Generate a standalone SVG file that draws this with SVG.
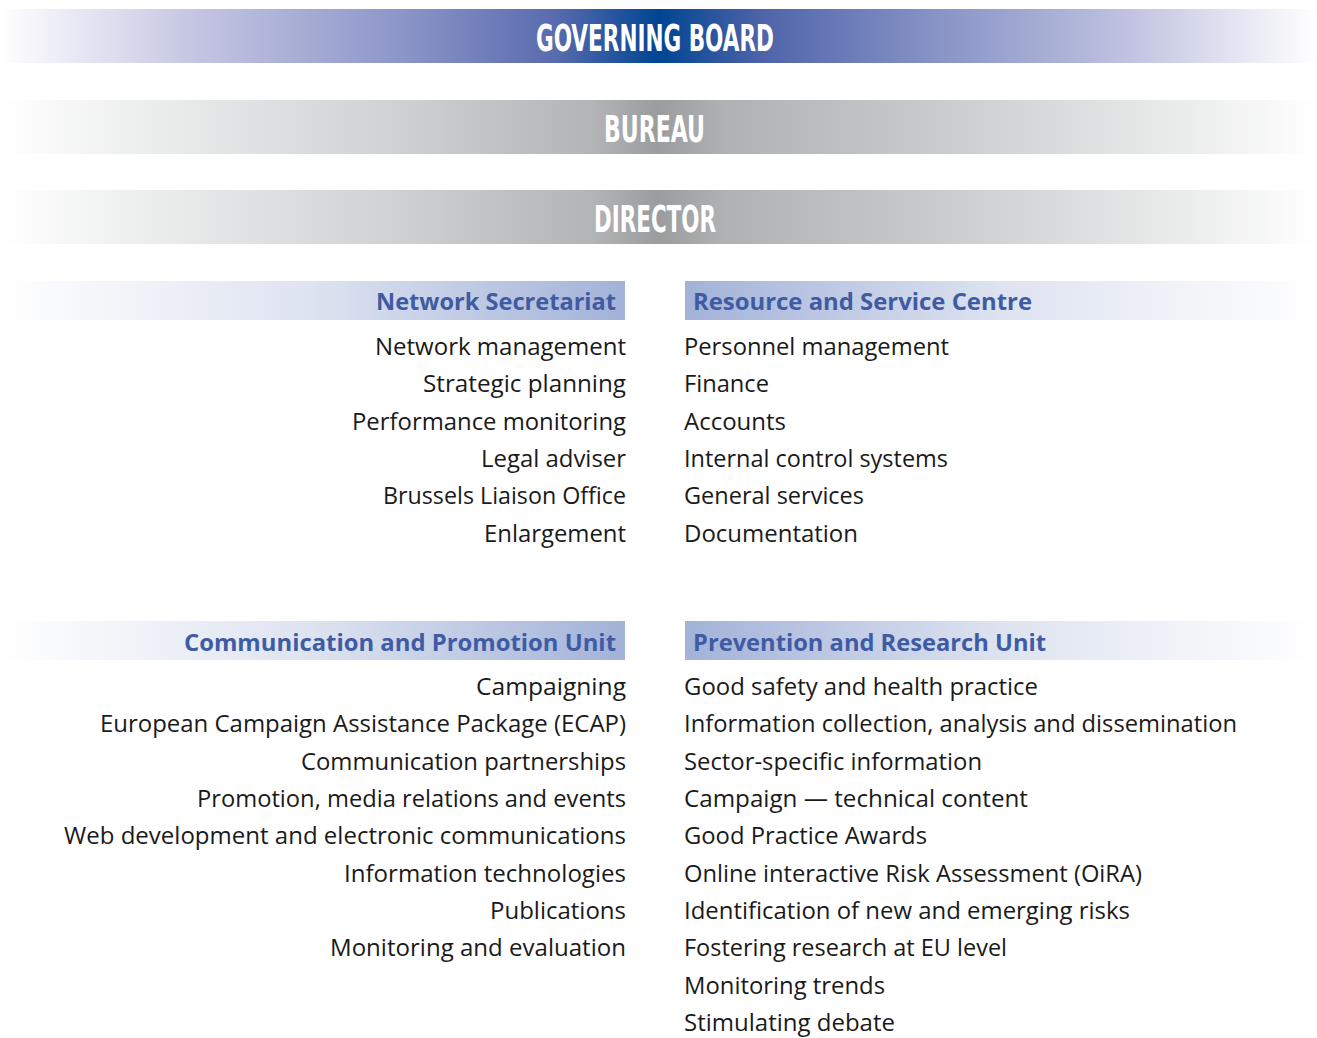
<svg xmlns="http://www.w3.org/2000/svg" width="1317" height="1038" viewBox="0 0 1317 1038">
<defs>
<linearGradient id="gBlue" x1="0" y1="0" x2="1317" y2="0" gradientUnits="userSpaceOnUse">
<stop offset="0" stop-color="#ffffff"/>
<stop offset="0.15" stop-color="#c3c5e2"/>
<stop offset="0.3" stop-color="#8e97c9"/>
<stop offset="0.42" stop-color="#5a6cae"/>
<stop offset="0.5" stop-color="#004593"/>
<stop offset="0.58" stop-color="#4f64a9"/>
<stop offset="0.7" stop-color="#8390c4"/>
<stop offset="0.85" stop-color="#bdc0df"/>
<stop offset="1" stop-color="#ffffff"/>
</linearGradient>
<linearGradient id="gGray" x1="0" y1="0" x2="1317" y2="0" gradientUnits="userSpaceOnUse">
<stop offset="0" stop-color="#ffffff"/>
<stop offset="0.1" stop-color="#eeefef"/>
<stop offset="0.3" stop-color="#d0d1d3"/>
<stop offset="0.45" stop-color="#b3b4b6"/>
<stop offset="0.5" stop-color="#9b9c9e"/>
<stop offset="0.55" stop-color="#b0b1b3"/>
<stop offset="0.7" stop-color="#c8c9cb"/>
<stop offset="0.9" stop-color="#ebecec"/>
<stop offset="1" stop-color="#ffffff"/>
</linearGradient>
<linearGradient id="gLeft" x1="0" y1="0" x2="1" y2="0">
<stop offset="0" stop-color="#ffffff"/>
<stop offset="0.5" stop-color="#dde3f0"/>
<stop offset="1" stop-color="#a2b2d8"/>
</linearGradient>
<linearGradient id="gRight" x1="0" y1="0" x2="1" y2="0">
<stop offset="0" stop-color="#a2b2d8"/>
<stop offset="0.5" stop-color="#dde3f0"/>
<stop offset="1" stop-color="#ffffff"/>
</linearGradient>
</defs>
<style>
.title{font-family:"DejaVu Sans Condensed","DejaVu Sans",sans-serif;font-weight:bold;font-size:37px;fill:#ffffff;text-anchor:middle}
.hd{font-family:"Open Sans","Liberation Sans",sans-serif;font-weight:bold;font-size:23px;fill:#3f5ba3}
.it{font-family:"Open Sans","Liberation Sans",sans-serif;font-size:24px;fill:#1a1a1a}
.l{text-anchor:end}
.hl{text-anchor:end}
</style>
<rect width="1317" height="1038" fill="#ffffff"/>
<g id="governing-board">
<rect x="0" y="9" width="1317" height="54" fill="url(#gBlue)"/>
<text class="title" x="655" y="51" textLength="238" lengthAdjust="spacingAndGlyphs">GOVERNING BOARD</text>
</g>
<g id="bureau">
<rect x="0" y="100" width="1317" height="54" fill="url(#gGray)"/>
<text class="title" x="654.5" y="142" textLength="101" lengthAdjust="spacingAndGlyphs">BUREAU</text>
</g>
<g id="director">
<rect x="0" y="190" width="1317" height="54" fill="url(#gGray)"/>
<text class="title" x="655" y="232" textLength="122" lengthAdjust="spacingAndGlyphs">DIRECTOR</text>
</g>
<g id="network-secretariat">
<rect x="0" y="281" width="625" height="39" fill="url(#gLeft)"/>
<text class="hd hl" x="616" y="310" textLength="240" lengthAdjust="spacingAndGlyphs">Network Secretariat</text>
<text class="it l" x="626" y="355" textLength="251" lengthAdjust="spacingAndGlyphs">Network management</text>
<text class="it l" x="626" y="392.3" textLength="203" lengthAdjust="spacingAndGlyphs">Strategic planning</text>
<text class="it l" x="626" y="429.6" textLength="274" lengthAdjust="spacingAndGlyphs">Performance monitoring</text>
<text class="it l" x="626" y="466.9" textLength="145" lengthAdjust="spacingAndGlyphs">Legal adviser</text>
<text class="it l" x="626" y="504.2" textLength="243" lengthAdjust="spacingAndGlyphs">Brussels Liaison Office</text>
<text class="it l" x="626" y="541.5" textLength="142" lengthAdjust="spacingAndGlyphs">Enlargement</text>
</g>
<g id="resource-service-centre">
<rect x="685" y="281" width="632" height="39" fill="url(#gRight)"/>
<text class="hd" x="693" y="310" textLength="339" lengthAdjust="spacingAndGlyphs">Resource and Service Centre</text>
<text class="it" x="684" y="355" textLength="265" lengthAdjust="spacingAndGlyphs">Personnel management</text>
<text class="it" x="684" y="392.3" textLength="85" lengthAdjust="spacingAndGlyphs">Finance</text>
<text class="it" x="684" y="429.6" textLength="102" lengthAdjust="spacingAndGlyphs">Accounts</text>
<text class="it" x="684" y="466.9" textLength="264" lengthAdjust="spacingAndGlyphs">Internal control systems</text>
<text class="it" x="684" y="504.2" textLength="180" lengthAdjust="spacingAndGlyphs">General services</text>
<text class="it" x="684" y="541.5" textLength="174" lengthAdjust="spacingAndGlyphs">Documentation</text>
</g>
<g id="communication-promotion-unit">
<rect x="0" y="621" width="625" height="39" fill="url(#gLeft)"/>
<text class="hd hl" x="616" y="651" textLength="432" lengthAdjust="spacingAndGlyphs">Communication and Promotion Unit</text>
<text class="it l" x="626" y="695" textLength="150" lengthAdjust="spacingAndGlyphs">Campaigning</text>
<text class="it l" x="626" y="732.3" textLength="526" lengthAdjust="spacingAndGlyphs">European Campaign Assistance Package (ECAP)</text>
<text class="it l" x="626" y="769.7" textLength="325" lengthAdjust="spacingAndGlyphs">Communication partnerships</text>
<text class="it l" x="626" y="807" textLength="429" lengthAdjust="spacingAndGlyphs">Promotion, media relations and events</text>
<text class="it l" x="626" y="844.3" textLength="562" lengthAdjust="spacingAndGlyphs">Web development and electronic communications</text>
<text class="it l" x="626" y="881.7" textLength="282" lengthAdjust="spacingAndGlyphs">Information technologies</text>
<text class="it l" x="626" y="919" textLength="136" lengthAdjust="spacingAndGlyphs">Publications</text>
<text class="it l" x="626" y="956.3" textLength="296" lengthAdjust="spacingAndGlyphs">Monitoring and evaluation</text>
</g>
<g id="prevention-research-unit">
<rect x="685" y="621" width="632" height="39" fill="url(#gRight)"/>
<text class="hd" x="693" y="651" textLength="353" lengthAdjust="spacingAndGlyphs">Prevention and Research Unit</text>
<text class="it" x="684" y="695" textLength="354" lengthAdjust="spacingAndGlyphs">Good safety and health practice</text>
<text class="it" x="684" y="732.3" textLength="553" lengthAdjust="spacingAndGlyphs">Information collection, analysis and dissemination</text>
<text class="it" x="684" y="769.7" textLength="298" lengthAdjust="spacingAndGlyphs">Sector-specific information</text>
<text class="it" x="684" y="807" textLength="344" lengthAdjust="spacingAndGlyphs">Campaign — technical content</text>
<text class="it" x="684" y="844.3" textLength="243" lengthAdjust="spacingAndGlyphs">Good Practice Awards</text>
<text class="it" x="684" y="881.7" textLength="458" lengthAdjust="spacingAndGlyphs">Online interactive Risk Assessment (OiRA)</text>
<text class="it" x="684" y="919" textLength="446" lengthAdjust="spacingAndGlyphs">Identification of new and emerging risks</text>
<text class="it" x="684" y="956.3" textLength="323" lengthAdjust="spacingAndGlyphs">Fostering research at EU level</text>
<text class="it" x="684" y="993.7" textLength="201" lengthAdjust="spacingAndGlyphs">Monitoring trends</text>
<text class="it" x="684" y="1031" textLength="211" lengthAdjust="spacingAndGlyphs">Stimulating debate</text>
</g>
<g id="connectors"></g>
</svg>
